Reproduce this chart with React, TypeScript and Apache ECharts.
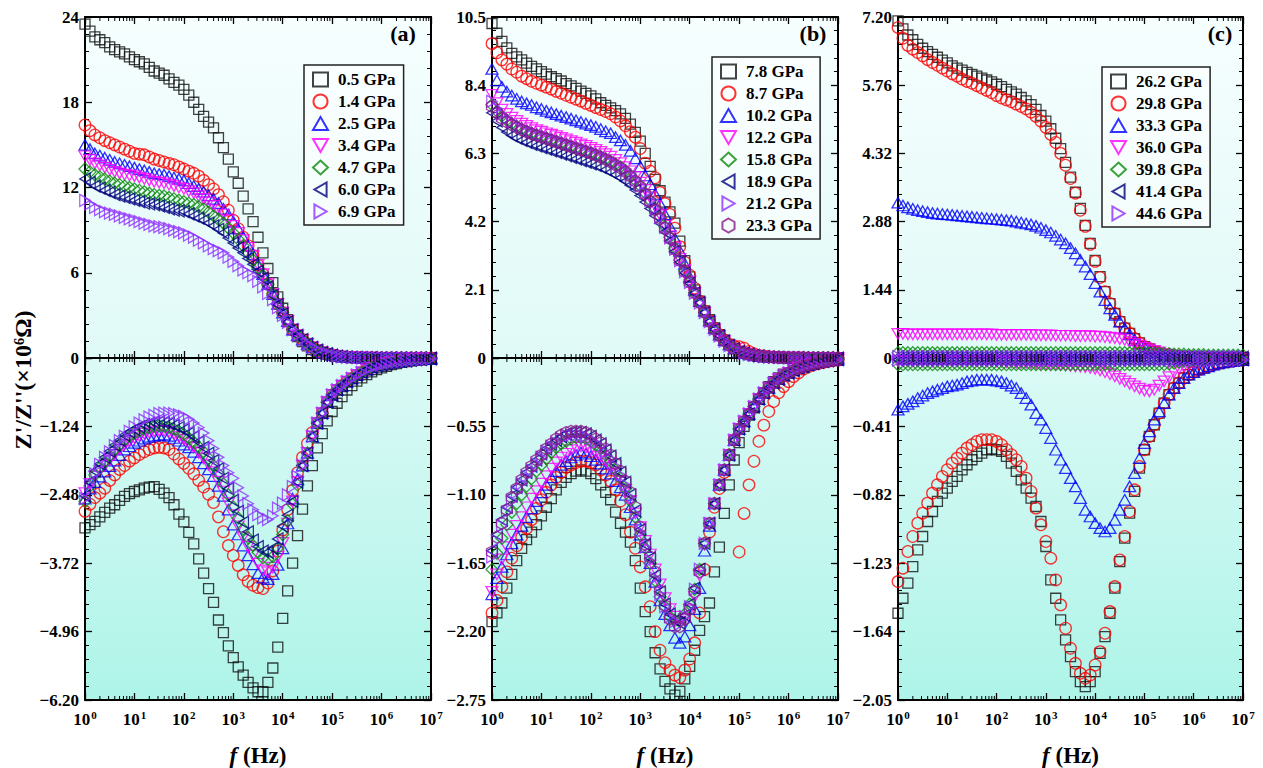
import React, { useEffect, useRef } from 'react';
import * as echarts from 'echarts';

// ============================================================
// Data
// x: log10 of the frequency in Hz, 10 points per decade
// ============================================================

const LOG_F = [
  0, 0.1, 0.2, 0.3, 0.4, 0.5, 0.6, 0.7, 0.8, 0.9,
  1, 1.1, 1.2, 1.3, 1.4, 1.5, 1.6, 1.7, 1.8, 1.9,
  2, 2.1, 2.2, 2.3, 2.4, 2.5, 2.6, 2.7, 2.8, 2.9,
  3, 3.1, 3.2, 3.3, 3.4, 3.5, 3.6, 3.7, 3.8, 3.9,
  4, 4.1, 4.2, 4.3, 4.4, 4.5, 4.6, 4.7, 4.8, 4.9,
  5, 5.1, 5.2, 5.3, 5.4, 5.5, 5.6, 5.7, 5.8, 5.9,
  6, 6.1, 6.2, 6.3, 6.4, 6.5, 6.6, 6.7, 6.8, 6.9,
  7,
];

// ---- panel (a) ----
const A_NAMES = ['0.5 GPa', '1.4 GPa', '2.5 GPa', '3.4 GPa', '4.7 GPa', '6.0 GPa', '6.9 GPa'];

// Z' from 10^5 Hz up, shared by the (a) curves
const A_ZR_TAIL5 = [
  0.2, 0.14, 0.1, 0.07, 0.05, 0.04, 0.03, 0.025, 0.02, 0.015,
  0.01, 0.01, 0.01, 0.005, 0, 0, 0, 0, 0, 0,
  0,
];

const A_ZR_05 = [
  23.5, 23.0, 22.6, 22.4, 22.2, 21.9, 21.7, 21.55, 21.4, 21.2,
  21.0, 20.85, 20.7, 20.45, 20.2, 20.05, 19.9, 19.65, 19.4, 19.2,
  18.9, 18.5, 18.0, 17.5, 17.0, 16.6, 16.2, 15.5, 14.8, 14.0,
  13.1, 12.3, 11.4, 10.5, 9.6, 8.5, 7.4, 6.3, 5.3, 4.3,
  3.5, 2.7, 2.0, 1.5, 1.15, 0.85, 0.6, 0.47, 0.35, 0.25,
  ...A_ZR_TAIL5,
];
const A_ZR_14 = [
  16.4, 16.0, 15.7, 15.5, 15.3, 15.15, 15.0, 14.85, 14.7, 14.55,
  14.4, 14.35, 14.3, 14.15, 14.0, 13.9, 13.8, 13.7, 13.6, 13.45,
  13.3, 13.15, 13.0, 12.8, 12.5, 12.2, 11.9, 11.5, 11.0, 10.4,
  9.7, 9.1, 8.5, 7.9, 7.2, 6.55, 5.9, 5.2, 4.5, 3.8,
  3.2, 2.6, 2.0, 1.6, 1.3, 1.0, 0.75, 0.55, 0.4, 0.3,
  ...A_ZR_TAIL5,
];
const A_ZR_25 = [
  15.0, 14.7, 14.4, 14.25, 14.1, 13.95, 13.8, 13.7, 13.6, 13.5,
  13.4, 13.3, 13.2, 13.1, 13.0, 12.95, 12.9, 12.8, 12.7, 12.6,
  12.5, 12.3, 12.1, 11.9, 11.7, 11.45, 11.2, 10.9, 10.5, 10.1,
  9.6, 9.1, 8.5, 7.9, 7.3, 6.6, 5.9, 5.2, 4.5, 3.8,
  3.2, 2.6, 2.0, 1.6, 1.3, 1.0, 0.75, 0.55, 0.4, 0.3,
  ...A_ZR_TAIL5,
];
const A_ZR_34 = [
  14.2, 13.95, 13.7, 13.55, 13.4, 13.25, 13.1, 13.0, 12.9, 12.85,
  12.8, 12.7, 12.6, 12.5, 12.4, 12.35, 12.3, 12.2, 12.1, 12.0,
  11.9, 11.75, 11.6, 11.4, 11.2, 10.95, 10.7, 10.4, 10.1, 9.7,
  9.3, 8.8, 8.3, 7.75, 7.2, 6.55, 5.9, 5.2, 4.5, 3.8,
  3.2, 2.6, 2.0, 1.6, 1.3, 1.0, 0.75, 0.55, 0.4, 0.3,
  ...A_ZR_TAIL5,
];
const A_ZR_47 = [
  13.3, 13.1, 12.9, 12.75, 12.6, 12.45, 12.3, 12.2, 12.1, 12.0,
  11.9, 11.8, 11.7, 11.6, 11.5, 11.45, 11.4, 11.3, 11.2, 11.1,
  11.0, 10.9, 10.8, 10.65, 10.5, 10.25, 10.0, 9.75, 9.5, 9.15,
  8.8, 8.35, 7.9, 7.4, 6.9, 6.35, 5.8, 5.15, 4.5, 3.8,
  3.2, 2.6, 2.0, 1.6, 1.3, 1.0, 0.75, 0.55, 0.4, 0.3,
  ...A_ZR_TAIL5,
];
const A_ZR_60 = [
  12.6, 12.35, 12.1, 11.95, 11.8, 11.65, 11.5, 11.4, 11.3, 11.2,
  11.1, 11.0, 10.9, 10.85, 10.8, 10.7, 10.6, 10.5, 10.4, 10.35,
  10.3, 10.15, 10.0, 9.85, 9.7, 9.5, 9.3, 9.05, 8.8, 8.45,
  8.1, 7.75, 7.4, 7.0, 6.6, 6.1, 5.6, 5.0, 4.4, 3.75,
  3.1, 2.55, 2.0, 1.6, 1.3, 1.0, 0.75, 0.55, 0.4, 0.3,
  ...A_ZR_TAIL5,
];
const A_ZR_69 = [
  11.1, 10.85, 10.6, 10.45, 10.3, 10.2, 10.1, 10.0, 9.9, 9.8,
  9.7, 9.6, 9.5, 9.4, 9.3, 9.25, 9.2, 9.1, 9.0, 8.9,
  8.8, 8.65, 8.5, 8.3, 8.1, 7.9, 7.7, 7.55, 7.4, 7.1,
  6.8, 6.5, 6.2, 6.0, 5.8, 5.4, 5.0, 4.55, 4.1, 3.55,
  3.0, 2.5, 2.0, 1.6, 1.3, 1.0, 0.75, 0.55, 0.4, 0.3,
  ...A_ZR_TAIL5,
];

// -Z'' from 10^5 Hz up, shared by the coloured (a) curves
const A_ZI_TAIL5 = [
  -0.67, -0.58, -0.5, -0.43, -0.37, -0.31, -0.26, -0.21, -0.17, -0.14,
  -0.12, -0.1, -0.08, -0.07, -0.06, -0.05, -0.04, -0.03, -0.025, -0.02,
  -0.015,
];

const A_ZI_05 = [
  -3.08, -3.02, -2.96, -2.88, -2.8, -2.72, -2.66, -2.58, -2.51, -2.46,
  -2.42, -2.39, -2.36, -2.34, -2.33, -2.38, -2.45, -2.53, -2.66, -2.83,
  -2.97, -3.16, -3.37, -3.64, -3.9, -4.18, -4.43, -4.75, -4.98, -5.22,
  -5.43, -5.6, -5.75, -5.88, -5.98, -6.05, -6.05, -5.88, -5.62, -5.24,
  -4.72, -4.22, -3.72, -3.22, -2.74, -2.32, -1.95, -1.63, -1.37, -1.14,
  -0.97, -0.82, -0.7, -0.58, -0.5, -0.42, -0.36, -0.3, -0.25, -0.21,
  -0.18, -0.15, -0.12, -0.1, -0.08, -0.065, -0.05, -0.04, -0.03, -0.025,
  -0.02,
];
const A_ZI_14 = [
  -2.78, -2.65, -2.53, -2.45, -2.36, -2.22, -2.12, -2.02, -1.95, -1.87,
  -1.81, -1.75, -1.7, -1.66, -1.63, -1.62, -1.63, -1.66, -1.74, -1.83,
  -1.91, -2.0, -2.1, -2.22, -2.34, -2.47, -2.62, -2.88, -3.15, -3.4,
  -3.58, -3.76, -3.93, -4.05, -4.12, -4.16, -4.18, -4.08, -3.86, -3.5,
  -3.12, -2.75, -2.4, -2.08, -1.8, -1.55, -1.35, -1.18, -1.0, -0.8,
  ...A_ZI_TAIL5,
];
const A_ZI_25 = [
  -2.55, -2.37, -2.25, -2.15, -2.06, -1.96, -1.86, -1.76, -1.66, -1.6,
  -1.54, -1.5, -1.46, -1.43, -1.41, -1.4, -1.39, -1.41, -1.45, -1.5,
  -1.57, -1.62, -1.7, -1.8, -1.91, -2.02, -2.14, -2.32, -2.5, -2.75,
  -3.02, -3.2, -3.4, -3.58, -3.74, -3.9, -3.98, -4.01, -3.92, -3.75,
  -3.45, -3.0, -2.55, -2.2, -1.95, -1.72, -1.42, -1.18, -1.0, -0.8,
  ...A_ZI_TAIL5,
];
const A_ZI_34 = [
  -2.45, -2.28, -2.15, -2.05, -1.95, -1.85, -1.75, -1.66, -1.57, -1.51,
  -1.45, -1.41, -1.37, -1.35, -1.33, -1.32, -1.32, -1.34, -1.38, -1.43,
  -1.48, -1.55, -1.62, -1.72, -1.82, -1.94, -2.07, -2.24, -2.42, -2.63,
  -2.85, -3.05, -3.25, -3.42, -3.58, -3.73, -3.85, -3.88, -3.8, -3.6,
  -3.35, -3.0, -2.6, -2.25, -1.95, -1.72, -1.42, -1.18, -1.0, -0.8,
  ...A_ZI_TAIL5,
];
const A_ZI_47 = [
  -2.6, -2.32, -2.12, -1.99, -1.88, -1.77, -1.66, -1.57, -1.48, -1.42,
  -1.36, -1.32, -1.28, -1.26, -1.24, -1.23, -1.24, -1.26, -1.29, -1.33,
  -1.38, -1.45, -1.52, -1.61, -1.7, -1.82, -1.95, -2.1, -2.28, -2.48,
  -2.7, -2.9, -3.1, -3.26, -3.4, -3.52, -3.62, -3.65, -3.6, -3.45,
  -3.2, -2.95, -2.65, -2.3, -1.95, -1.72, -1.42, -1.18, -1.0, -0.8,
  ...A_ZI_TAIL5,
];
const A_ZI_60 = [
  -2.5, -2.25, -2.05, -1.92, -1.8, -1.69, -1.58, -1.49, -1.4, -1.34,
  -1.29, -1.25, -1.21, -1.19, -1.17, -1.16, -1.17, -1.19, -1.22, -1.26,
  -1.3, -1.36, -1.43, -1.52, -1.62, -1.73, -1.86, -2.01, -2.18, -2.37,
  -2.58, -2.78, -2.98, -3.15, -3.3, -3.42, -3.5, -3.52, -3.45, -3.28,
  -3.05, -2.85, -2.6, -2.25, -1.95, -1.72, -1.42, -1.18, -1.0, -0.8,
  ...A_ZI_TAIL5,
];
const A_ZI_69 = [
  -2.55, -2.3, -2.1, -1.93, -1.8, -1.7, -1.59, -1.5, -1.42, -1.33,
  -1.25, -1.18, -1.12, -1.07, -1.04, -1.01, -1.0, -1.0, -1.01, -1.03,
  -1.06, -1.11, -1.18, -1.26, -1.36, -1.5, -1.64, -1.8, -1.95, -2.08,
  -2.18, -2.35, -2.5, -2.64, -2.75, -2.84, -2.9, -2.93, -2.86, -2.72,
  -2.63, -2.48, -2.33, -2.15, -1.95, -1.72, -1.42, -1.18, -1.0, -0.8,
  ...A_ZI_TAIL5,
];

// ---- panel (b) ----
const B_NAMES = ['7.8 GPa', '8.7 GPa', '10.2 GPa', '12.2 GPa', '15.8 GPa', '18.9 GPa', '21.2 GPa', '23.3 GPa'];

const B_ZR_TAIL6 = [0.01, 0.01, 0.01, 0.005, 0, 0, 0, 0, 0, 0, 0];
const B_ZR_TAIL5 = [0.2, 0.15, 0.11, 0.08, 0.06, 0.045, 0.03, 0.025, 0.02, 0.015, ...B_ZR_TAIL6];
// Z' of the five higher-pressure curves between 10^4.1 and 10^4.9 Hz
const B_ZR_GROUP4 = [2.0, 1.7, 1.4, 1.12, 0.88, 0.68, 0.52, 0.38, 0.28];

const B_ZR_78 = [
  10.3, 10.0, 9.75, 9.55, 9.38, 9.27, 9.18, 9.08, 8.98, 8.9,
  8.82, 8.74, 8.66, 8.6, 8.53, 8.45, 8.38, 8.3, 8.22, 8.15,
  8.07, 7.98, 7.86, 7.78, 7.7, 7.62, 7.52, 7.38, 7.2, 6.95,
  6.68, 6.3, 5.9, 5.5, 5.15, 4.8, 4.5, 4.15, 3.6, 3.0,
  2.5, 2.1, 1.75, 1.45, 1.18, 0.93, 0.72, 0.55, 0.42, 0.3,
  ...B_ZR_TAIL5,
];
const B_ZR_87 = [
  9.68, 9.4, 9.18, 9.05, 8.9, 8.8, 8.68, 8.6, 8.52, 8.46,
  8.4, 8.34, 8.28, 8.21, 8.15, 8.09, 8.03, 7.97, 7.91, 7.84,
  7.78, 7.71, 7.65, 7.59, 7.52, 7.42, 7.3, 7.15, 6.97, 6.8,
  6.45, 6.0, 5.75, 5.55, 5.1, 4.75, 4.42, 4.0, 3.43, 2.95,
  2.55, 2.15, 1.75, 1.45, 1.15, 0.92, 0.72, 0.56, 0.42, 0.37,
  0.35, 0.3, 0.2, 0.13, 0.08, 0.06, 0.04, 0.03, 0.02, 0.015,
  ...B_ZR_TAIL6,
];
const B_ZR_102 = [
  8.9, 8.55, 8.35, 8.2, 8.08, 7.98, 7.9, 7.84, 7.79, 7.72,
  7.67, 7.61, 7.56, 7.51, 7.46, 7.42, 7.37, 7.32, 7.27, 7.22,
  7.17, 7.12, 7.05, 6.98, 6.92, 6.8, 6.7, 6.56, 6.38, 6.15,
  5.9, 5.62, 5.35, 5.05, 4.75, 4.42, 4.05, 3.68, 3.3, 2.9,
  2.5, 2.1, 1.75, 1.45, 1.15, 0.92, 0.72, 0.55, 0.42, 0.3,
  ...B_ZR_TAIL5,
];
const B_ZR_122 = [
  8.1, 7.85, 7.65, 7.52, 7.4, 7.3, 7.22, 7.15, 7.08, 7.02,
  6.97, 6.92, 6.88, 6.83, 6.78, 6.73, 6.68, 6.63, 6.58, 6.53,
  6.47, 6.41, 6.35, 6.28, 6.2, 6.1, 6.0, 5.88, 5.75, 5.58,
  5.4, 5.18, 4.95, 4.68, 4.4, 4.08, 3.75, 3.4, 3.05, 2.7,
  2.35, ...B_ZR_GROUP4,
  ...B_ZR_TAIL5,
];
const B_ZR_158 = [
  7.8, 7.6, 7.45, 7.32, 7.22, 7.13, 7.05, 6.98, 6.92, 6.87,
  6.82, 6.77, 6.72, 6.67, 6.62, 6.57, 6.52, 6.47, 6.42, 6.37,
  6.32, 6.26, 6.2, 6.13, 6.05, 5.97, 5.88, 5.76, 5.62, 5.47,
  5.3, 5.08, 4.85, 4.6, 4.35, 4.05, 3.72, 3.38, 3.02, 2.68,
  2.35, ...B_ZR_GROUP4,
  ...B_ZR_TAIL5,
];
const B_ZR_189 = [
  7.55, 7.3, 7.1, 6.96, 6.85, 6.77, 6.7, 6.64, 6.58, 6.53,
  6.48, 6.43, 6.38, 6.33, 6.28, 6.23, 6.18, 6.13, 6.08, 6.03,
  5.98, 5.93, 5.87, 5.8, 5.72, 5.64, 5.55, 5.44, 5.32, 5.17,
  5.0, 4.8, 4.6, 4.38, 4.15, 3.88, 3.6, 3.28, 2.95, 2.62,
  2.3, ...B_ZR_GROUP4,
  ...B_ZR_TAIL5,
];
const B_ZR_212 = [
  7.9, 7.68, 7.5, 7.38, 7.28, 7.18, 7.1, 7.03, 6.97, 6.91,
  6.86, 6.81, 6.76, 6.71, 6.66, 6.61, 6.56, 6.51, 6.46, 6.41,
  6.36, 6.3, 6.24, 6.17, 6.09, 6.0, 5.9, 5.78, 5.64, 5.48,
  5.3, 5.08, 4.85, 4.6, 4.33, 4.02, 3.7, 3.35, 3.0, 2.66,
  2.33, ...B_ZR_GROUP4,
  ...B_ZR_TAIL5,
];
const B_ZR_233 = [
  7.75, 7.55, 7.38, 7.27, 7.18, 7.1, 7.02, 6.96, 6.9, 6.85,
  6.8, 6.75, 6.7, 6.65, 6.6, 6.55, 6.5, 6.45, 6.4, 6.35,
  6.3, 6.24, 6.18, 6.11, 6.03, 5.94, 5.85, 5.73, 5.6, 5.44,
  5.27, 5.05, 4.82, 4.56, 4.3, 4.0, 3.68, 3.34, 3.0, 2.66,
  2.33, ...B_ZR_GROUP4,
  ...B_ZR_TAIL5,
];

const B_ZI_TAIL6 = [-0.12, -0.1, -0.08, -0.07, -0.055, -0.045, -0.035, -0.028, -0.022, -0.018, -0.014];
const B_ZI_TAIL5 = [-0.57, -0.51, -0.45, -0.39, -0.33, -0.28, -0.24, -0.2, -0.17, -0.14, ...B_ZI_TAIL6];
// -Z'' of the coloured (b) curves between 10^4.5 and 10^4.9 Hz
const B_ZI_GROUP45 = [-1.17, -1.02, -0.9, -0.78, -0.66];

const B_ZI_78 = [
  -2.12, -2.05, -1.97, -1.85, -1.74, -1.63, -1.53, -1.46, -1.4, -1.34,
  -1.27, -1.2, -1.13, -1.06, -1.0, -0.96, -0.93, -0.91, -0.9, -0.91,
  -0.93, -0.97, -1.02, -1.08, -1.14, -1.24, -1.33, -1.4, -1.48, -1.63,
  -1.85, -2.04, -2.2, -2.37, -2.5, -2.6, -2.66, -2.71, -2.68, -2.58,
  -2.48, -2.35, -2.19, -2.08, -1.97, -1.72, -1.52, -1.25, -1.02, -0.82,
  -0.68, -0.55, -0.46, -0.4, -0.33, -0.28, -0.23, -0.19, -0.16, -0.13,
  ...B_ZI_TAIL6,
];
const B_ZI_87 = [
  -2.05, -1.95, -1.84, -1.72, -1.61, -1.51, -1.44, -1.37, -1.3, -1.21,
  -1.14, -1.08, -1.02, -0.96, -0.92, -0.88, -0.86, -0.84, -0.83, -0.83,
  -0.84, -0.86, -0.9, -0.94, -0.99, -1.06, -1.15, -1.26, -1.4, -1.53,
  -1.68, -1.84, -2.0, -2.2, -2.35, -2.45, -2.51, -2.55, -2.57, -2.51,
  -2.42, -2.29, -2.05, -1.7, -1.4, -1.2, -1.05, -0.92, -0.78, -0.66,
  -1.56, -1.25, -1.02, -0.83, -0.67, -0.54, -0.43, -0.35, -0.28, -0.23,
  -0.19, -0.15, -0.12, -0.09, -0.07, -0.055, -0.045, -0.035, -0.028, -0.022,
  -0.018,
];
const B_ZI_102 = [
  -1.9, -1.77, -1.68, -1.58, -1.49, -1.42, -1.35, -1.28, -1.21, -1.15,
  -1.08, -1.02, -0.96, -0.91, -0.86, -0.83, -0.8, -0.78, -0.76, -0.77,
  -0.79, -0.82, -0.85, -0.89, -0.93, -0.99, -1.04, -1.1, -1.2, -1.3,
  -1.42, -1.52, -1.65, -1.8, -1.95, -2.06, -2.15, -2.25, -2.29, -2.24,
  -2.15, -2.02, -1.85, -1.55, -1.35, ...B_ZI_GROUP45,
  ...B_ZI_TAIL5,
];
const B_ZI_122 = [
  -1.88, -1.74, -1.62, -1.52, -1.42, -1.35, -1.28, -1.2, -1.13, -1.07,
  -1.01, -0.95, -0.89, -0.84, -0.8, -0.77, -0.74, -0.72, -0.71, -0.72,
  -0.74, -0.76, -0.79, -0.83, -0.88, -0.93, -0.99, -1.06, -1.15, -1.25,
  -1.36, -1.47, -1.58, -1.7, -1.82, -1.93, -2.02, -2.08, -2.12, -2.1,
  -2.03, -1.92, -1.75, -1.5, -1.33, ...B_ZI_GROUP45,
  ...B_ZI_TAIL5,
];
const B_ZI_158 = [
  -1.7, -1.57, -1.45, -1.34, -1.24, -1.17, -1.1, -1.03, -0.97, -0.91,
  -0.86, -0.81, -0.76, -0.72, -0.69, -0.67, -0.65, -0.64, -0.64, -0.65,
  -0.67, -0.7, -0.73, -0.78, -0.83, -0.9, -0.97, -1.05, -1.15, -1.28,
  -1.42, -1.53, -1.65, -1.79, -1.92, -2.0, -2.08, -2.11, -2.12, -2.06,
  -1.98, -1.86, -1.7, -1.49, -1.33, ...B_ZI_GROUP45,
  ...B_ZI_TAIL5,
];
const B_ZI_189 = [
  -1.55, -1.42, -1.3, -1.2, -1.11, -1.04, -0.98, -0.92, -0.87, -0.82,
  -0.77, -0.73, -0.69, -0.66, -0.63, -0.61, -0.6, -0.6, -0.6, -0.61,
  -0.63, -0.66, -0.69, -0.74, -0.79, -0.85, -0.92, -1.0, -1.1, -1.23,
  -1.38, -1.5, -1.61, -1.75, -1.88, -1.98, -2.06, -2.11, -2.13, -2.07,
  -1.98, -1.85, -1.7, -1.49, -1.33, ...B_ZI_GROUP45,
  ...B_ZI_TAIL5,
];
const B_ZI_212 = [
  -1.6, -1.47, -1.35, -1.24, -1.15, -1.08, -1.01, -0.95, -0.9, -0.85,
  -0.8, -0.75, -0.71, -0.68, -0.65, -0.63, -0.62, -0.62, -0.62, -0.63,
  -0.65, -0.68, -0.71, -0.76, -0.81, -0.87, -0.94, -1.02, -1.12, -1.25,
  -1.4, -1.52, -1.63, -1.77, -1.9, -2.0, -2.08, -2.12, -2.14, -2.08,
  -2.0, -1.86, -1.7, -1.49, -1.33, ...B_ZI_GROUP45,
  ...B_ZI_TAIL5,
];
const B_ZI_233 = [
  -1.56, -1.44, -1.33, -1.22, -1.12, -1.05, -0.98, -0.92, -0.87, -0.82,
  -0.78, -0.73, -0.69, -0.65, -0.62, -0.6, -0.59, -0.59, -0.59, -0.6,
  -0.62, -0.65, -0.68, -0.73, -0.78, -0.85, -0.91, -0.99, -1.08, -1.2,
  -1.36, -1.5, -1.6, -1.72, -1.87, -1.99, -2.1, -2.16, -2.16, -2.1,
  -2.02, -1.88, -1.72, -1.49, -1.33, ...B_ZI_GROUP45,
  ...B_ZI_TAIL5,
];

// ---- panel (c) ----
const C_NAMES = ['26.2 GPa', '29.8 GPa', '33.3 GPa', '36.0 GPa', '39.8 GPa', '41.4 GPa', '44.6 GPa'];

const C_ZR_TAIL5 = [
  0.24, 0.19, 0.14, 0.1, 0.07, 0.055, 0.04, 0.03, 0.02, 0.015,
  0.01, 0.005, 0, 0, 0, 0, 0, 0, 0, 0,
  0,
];

const C_ZR_262 = [
  7.12, 6.95, 6.82, 6.72, 6.62, 6.54, 6.47, 6.41, 6.35, 6.29,
  6.23, 6.17, 6.12, 6.08, 6.03, 5.99, 5.95, 5.91, 5.87, 5.83,
  5.78, 5.73, 5.67, 5.62, 5.57, 5.5, 5.43, 5.35, 5.25, 5.12,
  5.0, 4.84, 4.64, 4.42, 4.13, 3.82, 3.5, 3.16, 2.8, 2.42,
  2.06, 1.72, 1.4, 1.15, 0.94, 0.77, 0.63, 0.52, 0.41, 0.32,
  ...C_ZR_TAIL5,
];
const C_ZR_298 = [
  6.98, 6.75, 6.6, 6.52, 6.45, 6.38, 6.3, 6.24, 6.18, 6.12,
  6.06, 6.0, 5.95, 5.89, 5.84, 5.8, 5.75, 5.7, 5.65, 5.6,
  5.54, 5.49, 5.45, 5.41, 5.36, 5.31, 5.26, 5.19, 5.1, 5.0,
  4.87, 4.72, 4.55, 4.32, 4.07, 3.79, 3.48, 3.12, 2.78, 2.4,
  2.04, 1.7, 1.4, 1.15, 0.94, 0.77, 0.63, 0.52, 0.41, 0.32,
  ...C_ZR_TAIL5,
];
const C_ZR_333 = [
  3.28, 3.22, 3.18, 3.15, 3.12, 3.1, 3.08, 3.06, 3.05, 3.04,
  3.03, 3.02, 3.01, 3.0, 2.99, 2.98, 2.97, 2.96, 2.95, 2.94,
  2.93, 2.92, 2.91, 2.9, 2.88, 2.86, 2.84, 2.82, 2.79, 2.75,
  2.7, 2.65, 2.58, 2.5, 2.42, 2.32, 2.21, 2.07, 1.93, 1.77,
  1.58, 1.4, 1.22, 1.05, 0.91, 0.77, 0.63, 0.5, 0.38, 0.3,
  0.24, 0.18, 0.14, 0.11, 0.08, 0.06, 0.05, 0.035, 0.025, 0.02,
  0.01, 0.01, 0.005, 0, 0, 0, 0, 0, 0, 0,
  0,
];
const C_ZR_360 = [
  0.51, 0.51, 0.5, 0.5, 0.5, 0.5, 0.5, 0.5, 0.5, 0.5,
  0.5, 0.5, 0.5, 0.5, 0.5, 0.5, 0.5, 0.5, 0.5, 0.5,
  0.49, 0.49, 0.49, 0.49, 0.49, 0.49, 0.49, 0.49, 0.48, 0.48,
  0.48, 0.48, 0.47, 0.47, 0.47, 0.47, 0.46, 0.46, 0.46, 0.46,
  0.45, 0.45, 0.44, 0.43, 0.42, 0.4, 0.38, 0.34, 0.3, 0.26,
  0.22, 0.18, 0.15, 0.12, 0.09, 0.07, 0.05, 0.04, 0.03, 0.02,
  0.01, 0.01, 0.01, 0.005, 0, 0, 0, 0, 0, 0,
  0,
];
const C_ZR_398 = [
  0.11, 0.11, 0.11, 0.11, 0.11, 0.11, 0.11, 0.11, 0.11, 0.11,
  0.11, 0.11, 0.11, 0.11, 0.11, 0.11, 0.11, 0.11, 0.11, 0.11,
  0.11, 0.11, 0.11, 0.11, 0.11, 0.11, 0.11, 0.11, 0.11, 0.11,
  0.11, 0.11, 0.11, 0.11, 0.11, 0.11, 0.11, 0.11, 0.11, 0.11,
  0.11, 0.11, 0.11, 0.11, 0.11, 0.11, 0.11, 0.11, 0.11, 0.11,
  0.11, 0.11, 0.1, 0.1, 0.09, 0.09, 0.08, 0.08, 0.08, 0.07,
  0.07, 0.07, 0.07, 0.06, 0.06, 0.06, 0.06, 0.06, 0.06, 0.06,
  0.06,
];
const C_ZR_414 = [
  0.02, 0.02, 0.02, 0.02, 0.02, 0.02, 0.02, 0.02, 0.02, 0.02,
  0.02, 0.02, 0.02, 0.02, 0.02, 0.02, 0.02, 0.02, 0.02, 0.02,
  0.02, 0.02, 0.02, 0.02, 0.02, 0.02, 0.02, 0.02, 0.02, 0.02,
  0.02, 0.02, 0.02, 0.02, 0.02, 0.02, 0.02, 0.02, 0.02, 0.02,
  0.02, 0.02, 0.02, 0.02, 0.02, 0.02, 0.02, 0.02, 0.02, 0.02,
  0.02, 0.02, 0.02, 0.02, 0.02, 0.02, 0.02, 0.02, 0.02, 0.02,
  0.02, 0.02, 0.02, 0.02, 0.02, 0.02, 0.02, 0.02, 0.02, 0.02,
  0.02,
];
const C_ZR_446 = [
  0.03, 0.03, 0.03, 0.03, 0.03, 0.03, 0.03, 0.03, 0.03, 0.03,
  0.03, 0.03, 0.03, 0.03, 0.03, 0.03, 0.03, 0.03, 0.03, 0.03,
  0.03, 0.03, 0.03, 0.03, 0.03, 0.03, 0.03, 0.03, 0.03, 0.03,
  0.03, 0.03, 0.03, 0.03, 0.03, 0.03, 0.03, 0.03, 0.03, 0.03,
  0.03, 0.03, 0.03, 0.03, 0.03, 0.03, 0.03, 0.03, 0.03, 0.03,
  0.03, 0.03, 0.03, 0.03, 0.03, 0.03, 0.03, 0.03, 0.03, 0.03,
  0.03, 0.03, 0.03, 0.03, 0.03, 0.03, 0.03, 0.03, 0.03, 0.03,
  0.03,
];

const C_ZI_TAIL6 = [-0.085, -0.07, -0.06, -0.05, -0.04, -0.033, -0.027, -0.022, -0.018, -0.015, -0.012];

const C_ZI_262 = [
  -1.53, -1.44, -1.35, -1.25, -1.15, -1.07, -0.98, -0.92, -0.86, -0.81,
  -0.78, -0.74, -0.71, -0.67, -0.64, -0.61, -0.59, -0.57, -0.55, -0.545,
  -0.55, -0.56, -0.59, -0.63, -0.68, -0.73, -0.78, -0.84, -0.89, -0.98,
  -1.13, -1.33, -1.44, -1.57, -1.69, -1.79, -1.88, -1.94, -1.97, -1.94,
  -1.88, -1.77, -1.67, -1.53, -1.38, -1.22, -1.08, -0.93, -0.8, -0.66,
  -0.55, -0.47, -0.4, -0.33, -0.27, -0.22, -0.18, -0.15, -0.12, -0.1,
  ...C_ZI_TAIL6,
];
const C_ZI_298 = [
  -1.34, -1.26, -1.16, -1.07, -0.99, -0.93, -0.87, -0.81, -0.76, -0.71,
  -0.67, -0.63, -0.6, -0.57, -0.54, -0.52, -0.5, -0.49, -0.49, -0.49,
  -0.5, -0.52, -0.55, -0.58, -0.61, -0.65, -0.72, -0.8, -0.9, -1.0,
  -1.1, -1.2, -1.33, -1.48, -1.62, -1.74, -1.83, -1.89, -1.92, -1.9,
  -1.84, -1.76, -1.65, -1.52, -1.37, -1.21, -1.07, -0.92, -0.79, -0.65,
  -0.55, -0.47, -0.4, -0.33, -0.27, -0.22, -0.18, -0.15, -0.12, -0.1,
  ...C_ZI_TAIL6,
];
const C_ZI_333 = [
  -0.31, -0.29, -0.275, -0.26, -0.24, -0.225, -0.21, -0.2, -0.19, -0.18,
  -0.17, -0.165, -0.16, -0.15, -0.14, -0.135, -0.13, -0.13, -0.13, -0.13,
  -0.135, -0.14, -0.15, -0.165, -0.18, -0.21, -0.24, -0.28, -0.33, -0.37,
  -0.42, -0.48, -0.55, -0.61, -0.66, -0.72, -0.77, -0.84, -0.91, -0.95,
  -0.99, -1.02, -1.04, -1.02, -0.97, -0.91, -0.85, -0.77, -0.69, -0.6,
  -0.51, -0.44, -0.37, -0.32, -0.27, -0.22, -0.18, -0.15, -0.12, -0.1,
  ...C_ZI_TAIL6,
];
const C_ZI_360 = [
  -0.02, -0.02, -0.02, -0.02, -0.02, -0.02, -0.02, -0.02, -0.02, -0.02,
  -0.02, -0.02, -0.02, -0.02, -0.02, -0.02, -0.02, -0.02, -0.02, -0.02,
  -0.02, -0.022, -0.025, -0.027, -0.03, -0.03, -0.03, -0.032, -0.035, -0.037,
  -0.04, -0.04, -0.04, -0.042, -0.045, -0.047, -0.05, -0.052, -0.055, -0.06,
  -0.065, -0.075, -0.085, -0.097, -0.11, -0.125, -0.14, -0.155, -0.17, -0.183,
  -0.195, -0.2, -0.19, -0.165, -0.14, -0.115, -0.085, -0.065, -0.05, -0.04,
  -0.03, -0.025, -0.02, -0.015, -0.01, -0.01, -0.01, -0.01, -0.01, -0.01,
  -0.01,
];
const C_ZI_398 = [
  -0.04, -0.04, -0.04, -0.04, -0.04, -0.04, -0.04, -0.04, -0.04, -0.04,
  -0.04, -0.04, -0.04, -0.04, -0.04, -0.04, -0.04, -0.04, -0.04, -0.04,
  -0.04, -0.04, -0.04, -0.04, -0.04, -0.04, -0.04, -0.04, -0.04, -0.04,
  -0.04, -0.04, -0.04, -0.04, -0.04, -0.04, -0.04, -0.04, -0.04, -0.04,
  -0.04, -0.04, -0.04, -0.04, -0.04, -0.04, -0.04, -0.04, -0.04, -0.04,
  -0.04, -0.04, -0.04, -0.04, -0.04, -0.035, -0.03, -0.025, -0.02, -0.02,
  -0.015, -0.015, -0.01, -0.01, -0.01, -0.01, -0.01, -0.01, -0.01, -0.01,
  -0.01,
];
const C_ZI_414 = [
  -0.01, -0.01, -0.01, -0.01, -0.01, -0.01, -0.01, -0.01, -0.01, -0.01,
  -0.01, -0.01, -0.01, -0.01, -0.01, -0.01, -0.01, -0.01, -0.01, -0.01,
  -0.01, -0.01, -0.01, -0.01, -0.01, -0.01, -0.01, -0.01, -0.01, -0.01,
  -0.01, -0.01, -0.01, -0.01, -0.01, -0.01, -0.01, -0.01, -0.01, -0.01,
  -0.01, -0.01, -0.01, -0.01, -0.01, -0.01, -0.01, -0.01, -0.01, -0.01,
  -0.01, -0.01, -0.01, -0.01, -0.01, -0.01, -0.01, -0.01, -0.01, -0.01,
  -0.01, -0.01, -0.01, -0.01, -0.01, -0.01, -0.01, -0.01, -0.01, -0.01,
  -0.01,
];
const C_ZI_446 = [
  -0.012, -0.012, -0.012, -0.012, -0.012, -0.012, -0.012, -0.012, -0.012, -0.012,
  -0.012, -0.012, -0.012, -0.012, -0.012, -0.012, -0.012, -0.012, -0.012, -0.012,
  -0.012, -0.012, -0.012, -0.012, -0.012, -0.012, -0.012, -0.012, -0.012, -0.012,
  -0.012, -0.012, -0.012, -0.012, -0.012, -0.012, -0.012, -0.012, -0.012, -0.012,
  -0.012, -0.012, -0.012, -0.012, -0.012, -0.012, -0.012, -0.012, -0.012, -0.012,
  -0.012, -0.012, -0.012, -0.012, -0.012, -0.012, -0.012, -0.012, -0.012, -0.012,
  -0.012, -0.012, -0.012, -0.012, -0.012, -0.012, -0.012, -0.012, -0.012, -0.012,
  -0.012,
];

// ============================================================
// Styles / layout
// ============================================================

const SERIF = 'Liberation Serif';
const Y_TITLE = "Z'/Z''(\u00d710\u2076\u03a9)";

// marker per series position: square, circle, up, down, diamond, left, right, hexagon
const MARKERS = [
  { symbol: 'rect', size: [10, 10], color: '#111111' },
  { symbol: 'circle', size: [11.5, 11.5], color: '#ff0000' },
  { symbol: 'path://M5,0L10,8.7L0,8.7Z', size: [12, 10.5], color: '#0000ff' },
  { symbol: 'path://M0,0L10,0L5,8.7Z', size: [12, 10.5], color: '#ff00ff' },
  { symbol: 'diamond', size: [12, 12], color: '#0a8a0a' },
  { symbol: 'path://M8.7,0L8.7,10L0,5Z', size: [10.5, 12], color: '#000080' },
  { symbol: 'path://M0,0L0,10L8.7,5Z', size: [10.5, 12], color: '#9030ff' },
  { symbol: 'path://M5,0L9.33,2.5L9.33,7.5L5,10L0.67,7.5L0.67,2.5Z', size: [11, 12], color: '#8b1a8b' },
];

const Y_TOP = 17;
const Y_MID = 358;
const Y_BOT = 701;

interface AxisRange { min: number; max: number; interval: number; dec: number }

interface Panel {
  names: string[];
  zr: number[][];
  zi: number[][];
  top: AxisRange;
  bot: AxisRange;
  left: number;
  width: number;
  legendLeft: number;
  legendTop: number;
  tag: string;
  tagX: number;
}

const PANELS: Panel[] = [
  {
    names: A_NAMES,
    zr: [A_ZR_05, A_ZR_14, A_ZR_25, A_ZR_34, A_ZR_47, A_ZR_60, A_ZR_69],
    zi: [A_ZI_05, A_ZI_14, A_ZI_25, A_ZI_34, A_ZI_47, A_ZI_60, A_ZI_69],
    top: { min: 0, max: 24, interval: 6, dec: 0 },
    bot: { min: -6.2, max: 0, interval: 1.24, dec: 2 },
    left: 85, width: 346, legendLeft: 304, legendTop: 65, tag: '(a)', tagX: 403,
  },
  {
    names: B_NAMES,
    zr: [B_ZR_78, B_ZR_87, B_ZR_102, B_ZR_122, B_ZR_158, B_ZR_189, B_ZR_212, B_ZR_233],
    zi: [B_ZI_78, B_ZI_87, B_ZI_102, B_ZI_122, B_ZI_158, B_ZI_189, B_ZI_212, B_ZI_233],
    top: { min: 0, max: 10.5, interval: 2.1, dec: 1 },
    bot: { min: -2.75, max: 0, interval: 0.55, dec: 2 },
    left: 492, width: 346, legendLeft: 712, legendTop: 57, tag: '(b)', tagX: 813,
  },
  {
    names: C_NAMES,
    zr: [C_ZR_262, C_ZR_298, C_ZR_333, C_ZR_360, C_ZR_398, C_ZR_414, C_ZR_446],
    zi: [C_ZI_262, C_ZI_298, C_ZI_333, C_ZI_360, C_ZI_398, C_ZI_414, C_ZI_446],
    top: { min: 0, max: 7.2, interval: 1.44, dec: 2 },
    bot: { min: -2.05, max: 0, interval: 0.41, dec: 2 },
    left: 898, width: 345, legendLeft: 1102, legendTop: 67, tag: '(c)', tagX: 1220,
  },
];

// log minor tick positions (2..9 within every decade)
const MINOR_POS: number[] = [];
for (let n = 0; n < 7; n++) {
  for (let k = 2; k <= 9; k++) MINOR_POS.push(n + Math.log10(k));
}

const yFormatter = (dec: number, hideZero: boolean) => (v: number) => {
  if (Math.abs(v) < 1e-9) return hideZero ? '' : '0';
  const s = Math.abs(v).toFixed(dec);
  return v < 0 ? '\u2212' + s : s;
};

const axisLineStyle = { color: '#000', width: 2 };
const tickStyle = { color: '#000', width: 1.3 };

function buildOption(): echarts.EChartsOption {
  const grids: any[] = [];
  const xAxes: any[] = [];
  const yAxes: any[] = [];
  const series: any[] = [];
  const legends: any[] = [];
  const graphics: any[] = [];

  PANELS.forEach((p, pi) => {
    [p.top, p.bot].forEach((ax, half) => {
      const g = pi * 2 + half;
      const isBottom = half === 1;
      const top = isBottom ? Y_MID : Y_TOP;
      const height = isBottom ? Y_BOT - Y_MID : Y_MID - Y_TOP;
      const grad = isBottom
        ? new echarts.graphic.LinearGradient(0, 0, 0, 1, [
            { offset: 0, color: '#dcfaf6' },
            { offset: 1, color: '#aef4e8' },
          ])
        : new echarts.graphic.LinearGradient(0, 0, 0, 1, [
            { offset: 0, color: '#f6fefe' },
            { offset: 1, color: '#e0faf7' },
          ]);
      grids.push({
        left: p.left, top, width: p.width, height,
        show: true, backgroundColor: grad, borderWidth: 0,
      });

      // x axes: bottom and top edge of each grid
      ['bottom', 'top'].forEach((pos) => {
        const showLabel = isBottom && pos === 'bottom';
        xAxes.push({
          type: 'value', gridIndex: g, position: pos,
          min: 0, max: 7, interval: 1,
          axisLine: { onZero: false, lineStyle: axisLineStyle },
          axisTick: { inside: true, length: 7, lineStyle: tickStyle },
          splitLine: { show: false },
          axisLabel: showLabel
            ? {
                show: true, margin: 9,
                formatter: (v: number) => `{b|10}{s|${Math.round(v)}}`,
                rich: {
                  b: { fontFamily: SERIF, fontWeight: 'bold', fontSize: 17, color: '#000' },
                  s: { fontFamily: SERIF, fontWeight: 'bold', fontSize: 11, color: '#000', padding: [0, 0, 9, 1] },
                },
              }
            : { show: false },
          name: showLabel ? '{i|f}{n| (Hz)}' : '',
          nameLocation: 'middle', nameGap: 44,
          nameTextStyle: {
            rich: {
              i: { fontFamily: SERIF, fontStyle: 'italic', fontWeight: 'bold', fontSize: 23, color: '#000' },
              n: { fontFamily: SERIF, fontWeight: 'bold', fontSize: 23, color: '#000' },
            },
          },
        });
      });

      // y axes: left with labels, right mirrored
      ['left', 'right'].forEach((pos) => {
        yAxes.push({
          type: 'value', gridIndex: g, position: pos,
          min: ax.min, max: ax.max, interval: ax.interval,
          axisLine: { show: true, onZero: false, lineStyle: axisLineStyle },
          axisTick: { show: true, inside: true, length: 7, lineStyle: tickStyle },
          minorTick: { show: true, splitNumber: 5, length: 4, lineStyle: { color: '#000', width: 1 } },
          splitLine: { show: false },
          axisLabel: pos === 'left'
            ? {
                show: true, showMinLabel: true, showMaxLabel: true, margin: 6,
                color: '#000', fontFamily: SERIF, fontWeight: 'bold', fontSize: 17,
                formatter: yFormatter(ax.dec, isBottom),
              }
            : { show: false },
        });
      });

      const arrays = isBottom ? p.zi : p.zr;
      arrays.forEach((vals, j) => {
        const m = MARKERS[j];
        series.push({
          type: 'scatter',
          name: p.names[j],
          xAxisIndex: 2 * g,
          yAxisIndex: 2 * g,
          symbol: m.symbol,
          symbolSize: m.size,
          itemStyle: { color: 'transparent', borderColor: m.color, borderWidth: 1.3 },
          emphasis: { disabled: true },
          data: LOG_F.map((x, k) => [x, vals[k]]),
        });
      });

      // log-spaced minor ticks on both x edges
      const ymin = ax.min;
      const ymax = ax.max;
      series.push({
        type: 'custom',
        xAxisIndex: 2 * g,
        yAxisIndex: 2 * g,
        silent: true,
        clip: false,
        z: 5,
        data: MINOR_POS.map((x) => [x, ymin]),
        renderItem: (_params: any, api: any) => {
          const x = api.value(0);
          const b = api.coord([x, ymin]);
          const t = api.coord([x, ymax]);
          const st = { stroke: '#000', lineWidth: 1 };
          return {
            type: 'group',
            children: [
              { type: 'line', shape: { x1: b[0], y1: b[1], x2: b[0], y2: b[1] - 4 }, style: st },
              { type: 'line', shape: { x1: t[0], y1: t[1], x2: t[0], y2: t[1] + 4 }, style: st },
            ],
          };
        },
      });
    });

    legends.push({
      data: p.names,
      orient: 'vertical',
      left: p.legendLeft,
      top: p.legendTop,
      itemWidth: 15,
      itemHeight: 14,
      itemGap: 5,
      selectedMode: false,
      padding: [6, 8, 5, 8],
      borderColor: '#222',
      borderWidth: 1.5,
      backgroundColor: 'rgba(255,255,255,0.55)',
      textStyle: {
        color: '#000', fontFamily: SERIF, fontWeight: 'bold', fontSize: 17,
        padding: [0, 0, 0, 5],
      },
    });

    graphics.push({
      type: 'text', x: p.tagX, y: 33, z: 100,
      style: {
        text: p.tag, fill: '#000', font: `bold 22px ${SERIF}`,
        align: 'center', verticalAlign: 'middle', textAlign: 'center', textVerticalAlign: 'middle',
      },
    });
  });

  graphics.push({
    type: 'text', x: 23, y: 380, rotation: Math.PI / 2, z: 100,
    style: {
      text: Y_TITLE, fill: '#000', font: `bold 24px ${SERIF}`,
      align: 'center', verticalAlign: 'middle', textAlign: 'center', textVerticalAlign: 'middle',
    },
  });

  return {
    animation: false,
    backgroundColor: '#ffffff',
    grid: grids,
    xAxis: xAxes,
    yAxis: yAxes,
    legend: legends,
    series,
    graphic: graphics,
  } as echarts.EChartsOption;
}

const ImpedancePanels: React.FC = () => {
  const chartRef = useRef<HTMLDivElement>(null);

  useEffect(() => {
    if (!chartRef.current) return;
    const chart = echarts.init(chartRef.current, undefined, { renderer: 'svg' });
    chart.setOption(buildOption());
    return () => {
      chart.dispose();
    };
  }, []);

  return (
    <div
      ref={chartRef}
      style={{ position: 'fixed', left: 0, top: 0, width: 1263, height: 768, background: '#fff' }}
    />
  );
};

export default function App() {
  return <ImpedancePanels />;
}
